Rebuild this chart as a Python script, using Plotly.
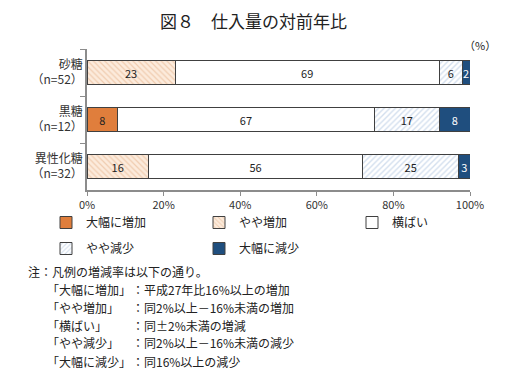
import plotly.graph_objects as go

categories = ["砂糖<br>（n=52）", "黒糖<br>（n=12）", "異性化糖<br>（n=32）"]
series_names = ["大幅に増加", "やや増加", "横ばい", "やや減少", "大幅に減少"]
large_increase = [0, 8, 0]
slight_increase = [23, 0, 16]
flat = [69, 67, 56]
slight_decrease = [6, 17, 25]
large_decrease = [2, 8, 3]
x_ticks = [0, 20, 40, 60, 80, 100]

note_labels = ["「大幅に増加」", "「やや増加」", "「横ばい」", "「やや減少」", "「大幅に減少」"]
note_texts = ["：平成27年比16%以上の増加", "：同2%以上－16%未満の増加", "：同±2%未満の増減",
              "：同2%以上－16%未満の減少", "：同16%以上の減少"]

# page has an 8px body margin; work in page coordinates and convert
OFF = 8
W, H = 505 - OFF, 375 - OFF
PL, PR, PT, PB = 87, 470, 49, 190   # plot area in page pixels
L, R, T, B = PL - OFF, PR - OFF, PT - OFF, PB - OFF
FONT = "Noto Sans CJK JP"

def px(x):
    return (x - PL) / (PR - PL)

def py(y):
    return (PB - y) / (PB - PT)

styles = [
    dict(color="#E07E3C", pattern=None, tc="#222222"),
    dict(color="#FCEBDC", pattern=dict(shape="\\", fgcolor="#E3AE84", size=4, solidity=0.3), tc="#222222"),
    dict(color="#FFFFFF", pattern=None, tc="#222222"),
    dict(color="#FFFFFF", pattern=dict(shape="/", fgcolor="#A8C0DE", size=4, solidity=0.35), tc="#222222"),
    dict(color="#1F4E7E", pattern=None, tc="#FFFFFF"),
]
legend_ids = ["legend", "legend", "legend", "legend2", "legend2"]
data = [large_increase, slight_increase, flat, slight_decrease, large_decrease]

fig = go.Figure()
for name, vals, st, lg in zip(series_names, data, styles, legend_ids):
    marker = dict(color=st["color"], line=dict(color="#404040", width=1))
    if st["pattern"]:
        marker["pattern"] = dict(shape=st["pattern"]["shape"], fgcolor=st["pattern"]["fgcolor"],
                                 bgcolor=st["color"], size=st["pattern"]["size"],
                                 solidity=st["pattern"]["solidity"], fillmode="overlay")
    fig.add_trace(go.Bar(
        y=categories, x=vals, name=name, orientation="h", marker=marker, legend=lg,
        text=[str(v) if v else "" for v in vals], textposition="inside",
        insidetextanchor="middle", textangle=0,
        textfont=dict(size=11, color=st["tc"], family=FONT),
        width=0.49, hoverinfo="skip",
    ))

legend_common = dict(orientation="h", xanchor="left", yanchor="top",
                     entrywidth=108, entrywidthmode="pixels", traceorder="normal",
                     font=dict(size=12, family=FONT, color="#222222"), itemwidth=30,
                     bgcolor="rgba(0,0,0,0)")

fig.update_layout(
    width=W, height=H, barmode="stack",
    margin=dict(l=L, r=W - R, t=T, b=H - B, autoexpand=False),
    paper_bgcolor="white", plot_bgcolor="white",
    font=dict(family=FONT, color="#222222"),
    uniformtext=dict(minsize=11, mode="show"),
    showlegend=True,
    legend=dict(x=px(46), y=py(208), **legend_common),
    legend2=dict(x=px(46), y=py(234), **legend_common),
)
fig.update_xaxes(range=[0, 100], tickvals=x_ticks, ticktext=[f"{v}%" for v in x_ticks],
                 showgrid=False, zeroline=False, showline=True, linecolor="#8C8C8C", linewidth=1.5,
                 ticks="outside", ticklen=4, tickcolor="#8C8C8C", automargin=False,
                 tickfont=dict(size=11, color="#333333", family=FONT))
fig.update_yaxes(categoryorder="array", categoryarray=categories, autorange="reversed",
                 showgrid=False, zeroline=False, showline=True, linecolor="#8C8C8C", linewidth=1.5,
                 ticks="outside", ticklen=5, tickcolor="#8C8C8C", tickson="boundaries", automargin=False,
                 tickfont=dict(size=12, color="#333333", family=FONT))

def note(text, x, y, size=12, xanchor="left"):
    return dict(text=text, x=px(x), y=py(y), xref="paper", yref="paper", xanchor=xanchor,
                yanchor="middle", showarrow=False, font=dict(size=size, family=FONT, color="#222222"))

ann = [note("図８　仕入量の対前年比", 253, 20, size=17, xanchor="center"),
       note("（%）", 480, 45, size=11, xanchor="center"),
       note("注：凡例の増減率は以下の通り。", 26, 271)]
for i, (lab, txt) in enumerate(zip(note_labels, note_texts)):
    yy = 289 + i * 18
    ann.append(note(lab, 45, yy))
    ann.append(note(txt, 130, yy))
fig.update_layout(annotations=ann)

fig.write_html("out.html")
